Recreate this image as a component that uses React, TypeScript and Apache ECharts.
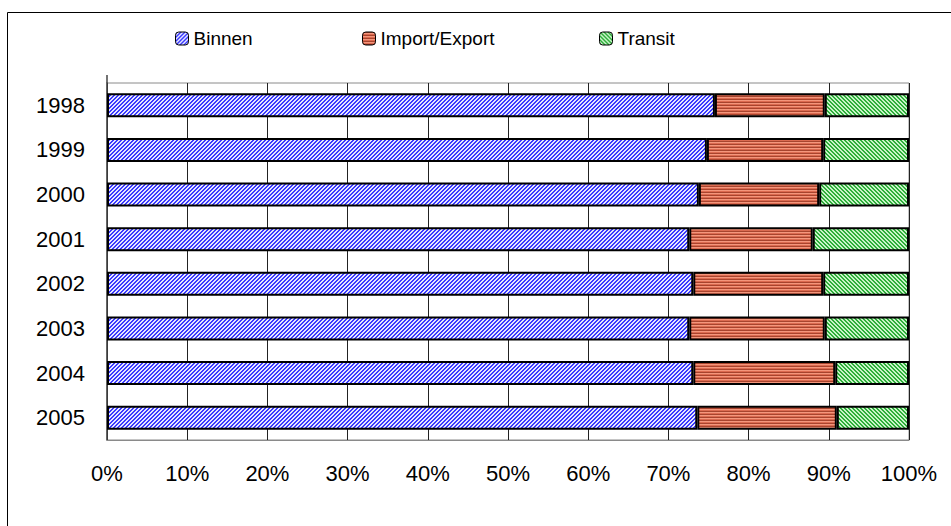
import React, { useEffect, useRef } from "react";
import * as echarts from "echarts";

// Shares of freight volume by traffic type, in percent of the yearly total
const years = ["1998", "1999", "2000", "2001", "2002", "2003", "2004", "2005"];
const binnen = [75.8, 74.8, 73.8, 72.6, 73.1, 72.6, 73.1, 73.6];
const importExport = [13.7, 14.5, 15.0, 15.4, 16.2, 16.9, 17.7, 17.4];
const transit = [10.5, 10.7, 11.2, 12.0, 10.7, 10.5, 9.2, 9.0];
const seriesNames = ["Binnen", "Import/Export", "Transit"];

const FONT = "'Liberation Sans', Arial, sans-serif";

// Small tiled canvases used as hatch fills
function makePattern(size: number, paint: (x: number, y: number) => string) {
  const c = document.createElement("canvas");
  c.width = size;
  c.height = size;
  const ctx = c.getContext("2d")!;
  for (let y = 0; y < size; y++) {
    for (let x = 0; x < size; x++) {
      ctx.fillStyle = paint(x, y);
      ctx.fillRect(x, y, 1, 1);
    }
  }
  return { image: c, repeat: "repeat" as const };
}

export default function App() {
  const ref = useRef<HTMLDivElement>(null);

  useEffect(() => {
    if (!ref.current) return;
    document.body.style.margin = "0";
    const chart = echarts.init(ref.current, undefined, { renderer: "svg" });

    const bluePattern = makePattern(4, (x, y) =>
      (x + y) % 4 < 2 ? "#3a3aff" : "#e6e6ff"
    );
    const redRows = ["#a8442e", "#f4967c", "#dc6a50"];
    const redPattern = makePattern(3, (_x, y) => redRows[y % 3]);
    const greenPattern = makePattern(4, (x, y) =>
      (x - y + 8) % 4 < 2 ? "#2eae3a" : "#c8f4c8"
    );
    const fills = [bluePattern, redPattern, greenPattern];
    const values = [binnen, importExport, transit];

    const legendLefts = [175, 362, 599];

    chart.setOption({
      animation: false,
      backgroundColor: "#ffffff",
      textStyle: { fontFamily: FONT },
      graphic: [
        {
          type: "rect",
          shape: { x: 7.5, y: 12.5, width: 960, height: 540 },
          style: { fill: "none", stroke: "#000", lineWidth: 1 },
          silent: true,
          z: -1,
        },
        {
          type: "line",
          shape: { x1: 107, y1: 75, x2: 107, y2: 83 },
          style: { stroke: "#444", lineWidth: 1.5 },
          silent: true,
        },
      ],
      legend: seriesNames.map((name, i) => ({
        data: [name],
        left: legendLefts[i],
        top: 29,
        itemWidth: 13,
        itemHeight: 13,
        padding: 0,
        selectedMode: false,
        itemStyle: { borderColor: "#000", borderWidth: 1 },
        textStyle: { fontFamily: FONT, fontSize: 19, color: "#000" },
      })),
      grid: {
        left: 107,
        right: 42,
        top: 83,
        bottom: 86,
        show: true,
        borderColor: "#8a8a8a",
        borderWidth: 1,
        backgroundColor: "transparent",
      },
      xAxis: {
        type: "value",
        min: 0,
        max: 100,
        interval: 10,
        axisLine: { show: true, lineStyle: { color: "#8a8a8a", width: 1 } },
        axisTick: { show: false },
        splitLine: { show: true, lineStyle: { color: "#222", width: 1 } },
        axisLabel: {
          formatter: "{value}%",
          fontFamily: FONT,
          fontSize: 22,
          color: "#000",
          margin: 22,
        },
      },
      yAxis: {
        type: "category",
        data: years,
        inverse: true,
        axisLine: { show: true, lineStyle: { color: "#444", width: 1.5 } },
        axisTick: { show: false },
        axisLabel: {
          fontFamily: FONT,
          fontSize: 22,
          color: "#000",
          margin: 22,
        },
      },
      series: seriesNames.map((name, i) => ({
        name,
        type: "bar",
        stack: "total",
        barWidth: 24,
        data: values[i],
        itemStyle: {
          color: fills[i],
          borderColor: "#000",
          borderWidth: 2,
        },
      })),
    });

    return () => chart.dispose();
  }, []);

  return <div ref={ref} style={{ width: 951, height: 526 }} />;
}
